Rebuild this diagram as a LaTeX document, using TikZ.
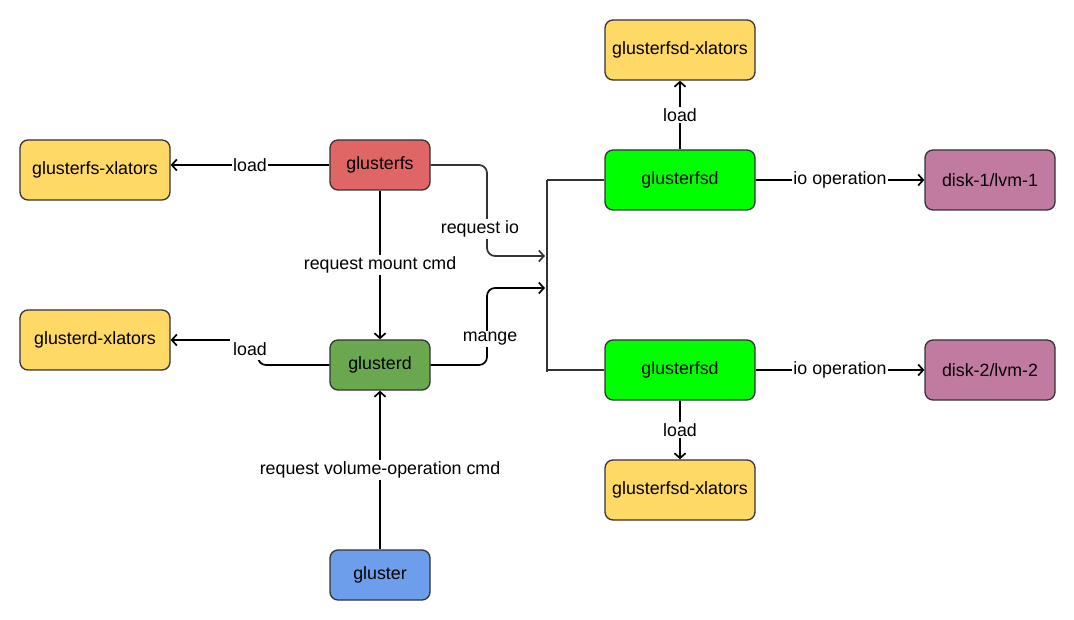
\documentclass[tikz,border=0pt]{standalone}
\usepackage{fontspec}
\setmainfont{Liberation Sans}
\usetikzlibrary{arrows.meta}
\definecolor{cyel}{HTML}{FFD966}
\definecolor{cred}{HTML}{E06666}
\definecolor{cgrn}{HTML}{6AA84F}
\definecolor{cblu}{HTML}{6D9EEB}
\definecolor{clime}{HTML}{00FF00}
\definecolor{cpur}{HTML}{C27BA0}
\definecolor{cedge}{HTML}{333333}
\begin{document}
\begin{tikzpicture}[x=1pt,y=-1pt,
  box/.style={draw=cedge,line width=1.3pt,rounded corners=8pt,minimum height=60pt,inner sep=0pt,font=\fontsize{17.8}{21}\selectfont},
  conn/.style={line width=1.7pt,-{Straight Barb[length=5pt,width=11pt]}},
  barline/.style={line width=1.8pt,draw=cedge},
  lbl/.style={fill=white,inner sep=1.5pt,font=\fontsize{17.8}{21}\selectfont}]
\useasboundingbox (0,0) rectangle (1074,620);

% nodes
\node[box,fill=cyel,minimum width=150pt] (gfx) at (95,170) {glusterfs-xlators};
\node[box,fill=cyel,minimum width=150pt] (gdx) at (95,340) {glusterd-xlators};
\node[box,fill=cred,minimum width=100pt,minimum height=50pt] (glusterfs) at (380,165) {glusterfs};
\node[box,fill=cgrn,minimum width=100pt,minimum height=50pt] (glusterd) at (380,365) {glusterd};
\node[box,fill=cblu,minimum width=100pt,minimum height=50pt] (gluster) at (380,575) {gluster};
\node[box,fill=cyel,minimum width=150pt] (fsdx1) at (680,50) {glusterfsd-xlators};
\node[box,fill=clime,minimum width=150pt] (fsd1) at (680,180) {glusterfsd};
\node[box,fill=clime,minimum width=150pt] (fsd2) at (680,370) {glusterfsd};
\node[box,fill=cyel,minimum width=150pt] (fsdx2) at (680,490) {glusterfsd-xlators};
\node[box,fill=cpur,minimum width=130pt] (disk1) at (990,180) {disk-1/lvm-1};
\node[box,fill=cpur,minimum width=130pt] (disk2) at (990,370) {disk-2/lvm-2};

% helper coordinates
\coordinate (bt) at (547,180);
\coordinate (bb) at (547,372);
\coordinate (bm) at (547,370);
\coordinate (jin1) at (545,256);
\coordinate (jin2) at (545,288);
\coordinate (jx1) at (487,210);
\coordinate (jx2) at (487,330);
\coordinate (c1) at (258,340);

% bar
\draw[barline] (bt) -- (bb);
\draw[barline] (bt) -- (fsd1.west);
\draw[barline] (bm) -- (fsd2.west);

% connectors
\draw[conn] (glusterfs.west) -- (gfx.east |- glusterfs.west) node[lbl,midway]{load};
\draw[conn] (glusterfs.south) -- (glusterd.north) node[lbl,midway]{request mount cmd};
\draw[conn] (gluster.north) -- (glusterd.south) node[lbl,midway]{request volume-operation cmd};
\draw[conn,rounded corners=8pt] (glusterd.west) -| (c1) -- (gdx.east);
\node[lbl,inner xsep=3pt,inner ysep=4.5pt] (l1) at (250,349) {load};
\draw[conn,draw=cedge,rounded corners=8pt] (glusterfs.east) -| (jx1) |- (jin1);
\node[lbl] (l2) at (480,229) {request io};
\draw[conn,rounded corners=8pt] (glusterd.east) -| (jx2) |- (jin2);
\node[lbl] (l3) at (490,339) {mange};
\draw[conn] (fsd1.north) -- (fsdx1.south) node[lbl,midway]{load};
\draw[conn] (fsd2.south) -- (fsdx2.north) node[lbl,midway]{load};
\draw[conn] (fsd1.east) -- (disk1.west) node[lbl,midway]{io operation};
\draw[conn] (fsd2.east) -- (disk2.west) node[lbl,midway]{io operation};
\end{tikzpicture}
\end{document}
